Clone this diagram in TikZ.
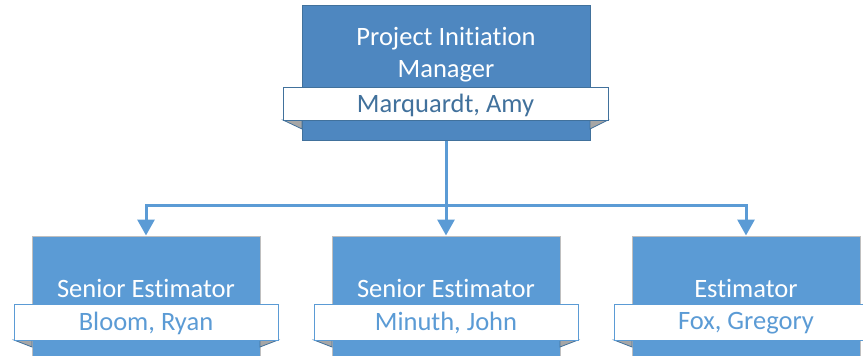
\documentclass[tikz,border=0pt]{standalone}
\usepackage{fontspec}
\setmainfont{Carlito}[Ligatures=NoCommon]
\usetikzlibrary{arrows.meta}

\definecolor{topblue}{HTML}{4E87C0}
\definecolor{boxblue}{HTML}{5B9BD5}
\definecolor{darkblue}{HTML}{41719C}
\definecolor{edgegray}{HTML}{BFBFBF}
\definecolor{foldgray}{HTML}{A6A6A6}

\begin{document}
\begin{tikzpicture}[x=1pt,y=-1pt,font=\fontsize{26.5}{32}\selectfont]

        \useasboundingbox (0,0) rectangle (863,356);
        \clip (0,0) rectangle (863,356);

        % boxes
        \node (mgr) [draw=darkblue,line width=1pt,fill=topblue,minimum width=288pt,minimum height=135pt,inner sep=0pt] at (446,72.5) {};

        \begin{scope}[every node/.style={draw=edgegray,line width=1pt,fill=boxblue,minimum width=228pt,minimum height=140pt,inner sep=0pt}]
          \node (est1) at (146,306) {};
          \node (est2) at (446,306) {};
          \node (est3) at (746,306) {};
        \end{scope}

        % folds under the name bands
        \begin{scope}[fill=foldgray,draw=darkblue,line width=0.8pt]
          \filldraw (283,120) -- (302,120) -- (302,129) -- cycle;
          \filldraw (608,120) -- (590,120) -- (590,129) -- cycle;
          \filldraw (14,340) -- (32,340) -- (32,347) -- cycle;
          \filldraw (278,340) -- (260,340) -- (260,347) -- cycle;
          \filldraw (314,340) -- (332,340) -- (332,347) -- cycle;
          \filldraw (578,340) -- (560,340) -- (560,347) -- cycle;
          \filldraw (614,340) -- (632,340) -- (632,347) -- cycle;
        \end{scope}

        % titles
        \begin{scope}[every node/.style={text=white,align=center,inner sep=0pt}]
          \node (mgrtitle) at (446,55) {Project Initiation\\Manager};
          \node (est1title) [anchor=base] at (146,297) {Senior Estimator};
          \node (est2title) [anchor=base] at (446,297) {Senior Estimator};
          \node (est3title) [anchor=base] at (746,297) {Estimator};
        \end{scope}

        % name bands
        \node (mgrname) [draw=darkblue,line width=1pt,fill=white,text=darkblue,minimum width=325pt,minimum height=33pt,inner sep=0pt,text depth=0pt] at (445.5,103.5) {Marquardt, Amy};

        \begin{scope}[every node/.style={draw=boxblue,line width=1pt,fill=white,text=boxblue,minimum width=264pt,minimum height=36pt,inner sep=0pt,text depth=2pt}]
          \node (est1name) at (146,322) {Bloom, Ryan};
          \node (est2name) at (446,322) {Minuth, John};
          \node (est3name) at (746,322) {Fox, Gregory};
        \end{scope}

        % connectors
        \coordinate (split) at (446,205);
        \begin{scope}[draw=boxblue,line width=3pt,>={Triangle[width=17pt,length=16pt]}]
          \draw (mgr.south) -- (split);
          \draw[->] (split) -| (est1.north);
          \draw[->] (split) -- (est2.north);
          \draw[->] (split) -| (est3.north);
        \end{scope}

      \end{tikzpicture}
\end{document}
